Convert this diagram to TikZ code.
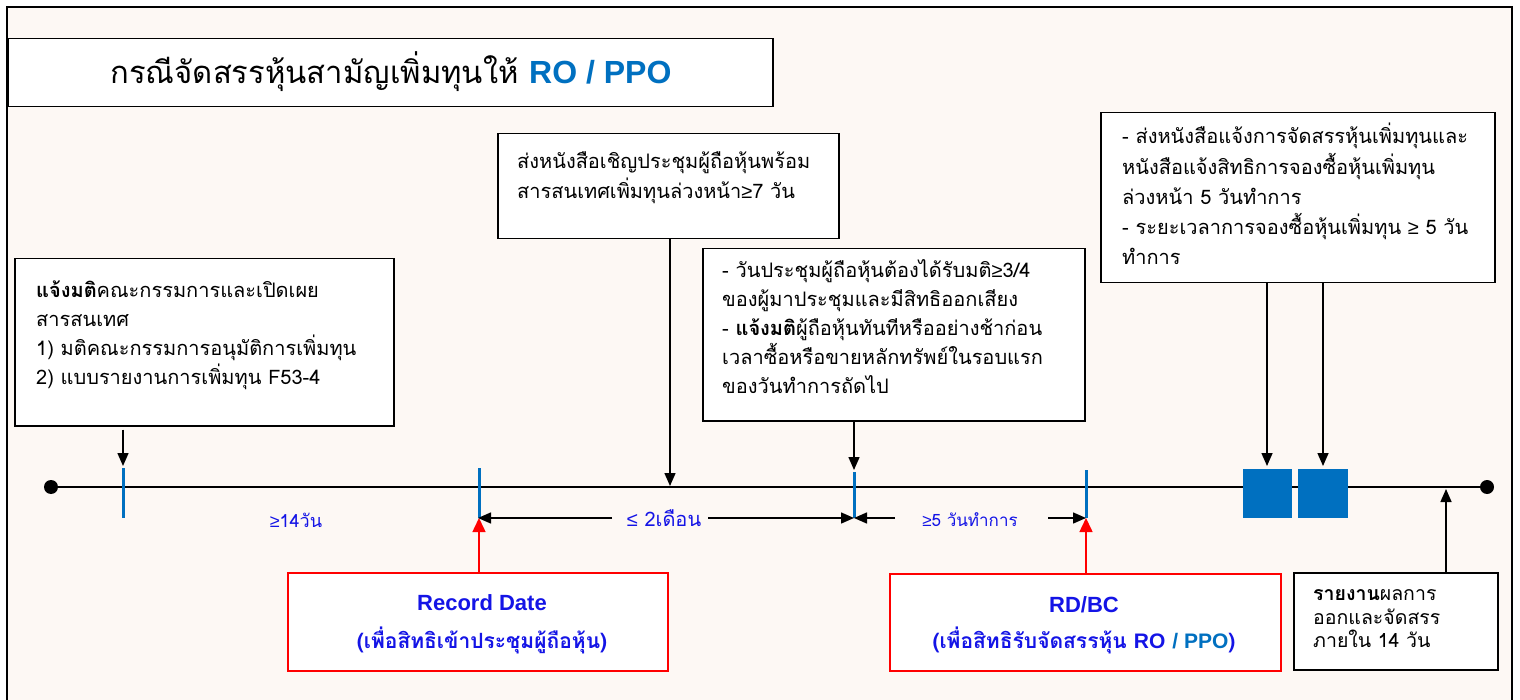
\documentclass[tikz,border=0pt]{standalone}
\usepackage{fontspec}
\setmainfont{Loma}[Script=Thai]
\newfontfamily\latf{Liberation Sans}
\usetikzlibrary{arrows.meta}
\definecolor{bgc}{HTML}{FDF8F4}
\definecolor{tblue}{RGB}{20,20,230}
\definecolor{lblue}{HTML}{0070C0}
\newcommand{\mygeq}{{\latf ≥}}
\newcommand{\myleq}{{\latf ≤}}
\begin{document}
\begin{tikzpicture}[x=1pt,y=-1pt,
  box/.style={draw=black, line width=1.5pt, fill=white, inner sep=0pt, anchor=north west},
  redbox/.style={draw=red, line width=1.5pt, fill=white, inner sep=0pt, anchor=north west},
  txt/.style={inner sep=0pt, align=left, anchor=north west, font=\fontsize{20}{29}\selectfont},
  arr/.style={-{Triangle[length=13pt,width=11pt]}, line width=1.5pt},
  redarr/.style={-{Triangle[length=14pt,width=13pt]}, line width=1.5pt, draw=red, fill=red},
  tickline/.style={draw=lblue, line width=3pt},
  sq/.style={fill=lblue, draw=none, inner sep=0pt, anchor=north west, minimum width=49, minimum height=49},
  lbl/.style={text=tblue, inner sep=0pt}
]
\useasboundingbox (0,0) rectangle (1520,700);
\fill[white] (0,0) rectangle (1520,700);
\fill[bgc] (7,7) rectangle (1512,700);
\draw[line width=2.5pt] (7,700) -- (7,7) -- (1512,7) -- (1512,700);

% title
\node[box, minimum width=765, minimum height=68] (title) at (7,38) {};
\node[inner sep=0pt, font=\fontsize{31}{36}\selectfont] (titletext) at (391,72)
  {กรณีจัดสรรหุ้นสามัญเพิ่มทุนให้ \textcolor{lblue}{\latf\bfseries\fontsize{32}{36}\selectfont RO / PPO}};

% timeline
\coordinate (L) at (51,487);
\coordinate (R) at (1487,487);
\draw[line width=2.5pt] (L) -- (R);
\fill (L) circle (7);
\fill (R) circle (7);

% ticks
\coordinate (t1a) at (123,468); \coordinate (t1b) at (123,518);
\coordinate (t2a) at (479,468); \coordinate (t2b) at (479,518);
\coordinate (t3a) at (854,472); \coordinate (t3b) at (854,518);
\coordinate (t4a) at (1086,470); \coordinate (t4b) at (1086,518);
\draw[tickline] (t1a) -- (t1b);
\draw[tickline] (t2a) -- (t2b);
\draw[tickline] (t3a) -- (t3b);
\draw[tickline] (t4a) -- (t4b);

% squares
\node[sq] (sq1) at (1243,469) {};
\node[sq, minimum width=50] (sq2) at (1298,469) {};

% box 1
\node[box, minimum width=379, minimum height=167] (b1) at (14,258) {};
\node[txt] (b1t) at (36,277) {\strut\textbf{แจ้งมติ}คณะกรรมการและเปิดเผย\\สารสนเทศ\\1) มติคณะกรรมการอนุมัติการเพิ่มทุน\\2) แบบรายงานการเพิ่มทุน F53-4};

% box 2
\node[box, minimum width=341, minimum height=105] (b2) at (497,133) {};
\node[txt, font=\fontsize{20}{28}\selectfont] (b2t) at (517,149) {\strut ส่งหนังสือเชิญประชุมผู้ถือหุ้นพร้อม\\สารสนเทศเพิ่มทุนล่วงหน้า\mygeq7 วัน};

% box 3
\node[box, minimum width=382, minimum height=172] (b3) at (702,248) {};
\node[txt] (b3t) at (722,257) {\strut - วันประชุมผู้ถือหุ้นต้องได้รับมติ\mygeq3/4\\ของผู้มาประชุมและมีสิทธิออกเสียง\\- \textbf{แจ้งมติ}ผู้ถือหุ้นทันทีหรืออย่างช้าก่อน\\เวลาซื้อหรือขายหลักทรัพย์ในรอบแรก\\ของวันทำการถัดไป};

% box 4
\node[box, minimum width=394, minimum height=170] (b4) at (1100,112) {};
\node[txt, font=\fontsize{20}{30}\selectfont] (b4t) at (1122,122) {\strut - ส่งหนังสือแจ้งการจัดสรรหุ้นเพิ่มทุนและ\\หนังสือแจ้งสิทธิการจองซื้อหุ้นเพิ่มทุน\\ล่วงหน้า 5 วันทำการ\\- ระยะเวลาการจองซื้อหุ้นเพิ่มทุน \mygeq\ 5 วัน\\ทำการ};

% bottom boxes
\node[redbox, minimum width=380, minimum height=98] (rec) at (287,572) {};
\node[inner sep=0pt, align=center, text=tblue, font=\fontsize{21}{38}\selectfont\bfseries] (rect) at (482,624) {{\latf\fontsize{22}{38}\selectfont Record Date}\\(เพื่อสิทธิเข้าประชุมผู้ถือหุ้น)};
\node[redbox, minimum width=391, minimum height=97] (rdbc) at (889,573) {};
\node[inner sep=0pt, align=center, text=tblue, font=\fontsize{21}{36}\selectfont\bfseries] (rdbct) at (1084,625) {{\latf\fontsize{22}{36}\selectfont RD/BC}\\(เพื่อสิทธิรับจัดสรรหุ้น {\latf RO} \textcolor{lblue}{\latf / PPO})};
\node[box, minimum width=204, minimum height=97] (rep) at (1293,572) {};
\node[txt, font=\fontsize{19.5}{23.5}\selectfont] (rept) at (1313,584) {\strut\textbf{รายงาน}ผลการ\\ออกและจัดสรร\\ภายใน 14 วัน};

% connectors from boxes
\draw[arr, shorten <=3pt, shorten >=2pt] (b1.south -| t1a) -- (t1a);
\coordinate (m2) at (670,487);
\draw[arr, shorten >=1pt] (b2.south -| m2) -- (m2);
\draw[arr, shorten >=2pt] (b3.south -| t3a) -- (t3a);
\coordinate (s1) at (1267,469);
\coordinate (s2) at (1323,469);
\draw[arr, shorten >=3pt] (b4.south -| s1) -- (s1);
\draw[arr, shorten >=3pt] (b4.south -| s2) -- (s2);
\coordinate (m4) at (1446,489);
\draw[arr] (rep.north -| m4) -- (m4);
\draw[redarr] (rec.north -| t2b) -- (t2b);
\draw[redarr] (rdbc.north -| t4b) -- (t4b);

% dimension arrows
\coordinate (d1) at (612,518);
\coordinate (d2) at (708,518);
\coordinate (d3) at (895,518);
\coordinate (d4) at (1048,518);
\draw[arr, shorten >=-1pt] (d1) -- (t2b);
\draw[arr] (d2) -- (t3b);
\draw[arr] (d3) -- (t3b);
\draw[arr] (d4) -- (t4b);
\node[lbl, font=\fontsize{20}{24}\selectfont] (lab1) at (664,518) {\myleq\ 2เดือน};
\node[lbl, font=\fontsize{17}{20}\selectfont] (lab2) at (970,520) {\mygeq5 วันทำการ};
\node[lbl, font=\fontsize{18}{22}\selectfont] (lab3) at (296,520) {\mygeq14วัน};
\end{tikzpicture}
\end{document}
